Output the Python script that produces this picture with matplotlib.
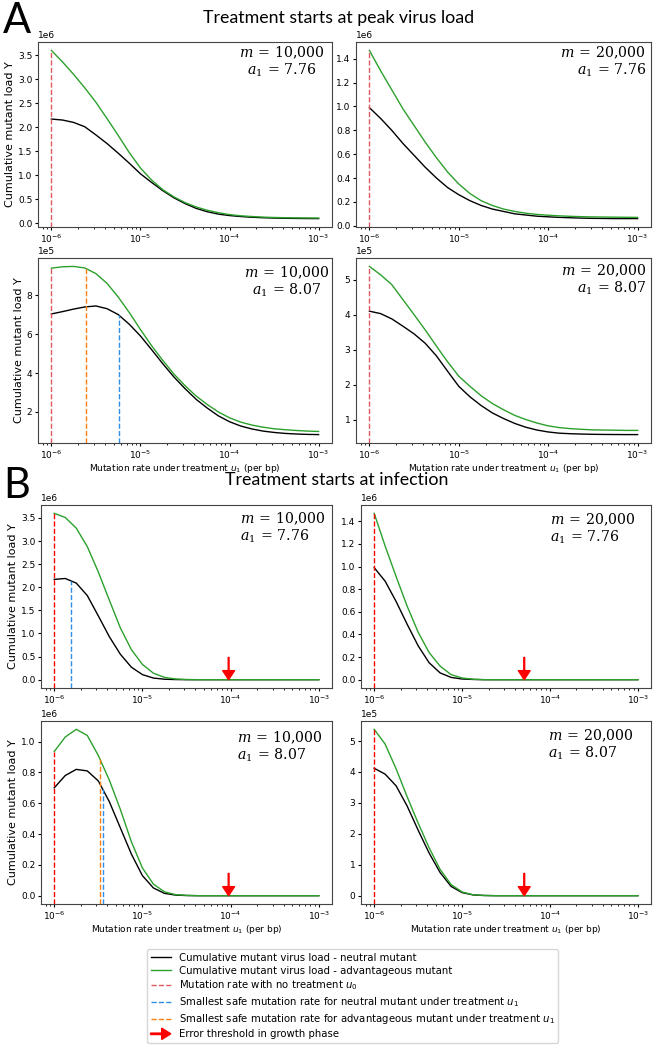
import matplotlib
matplotlib.use('Agg')
import matplotlib.pyplot as plt
import matplotlib.patches as mpatches
from matplotlib.lines import Line2D
from matplotlib.legend_handler import HandlerPatch
import numpy as np

# x grid (log10 of mutation rate under treatment u1), values read at these points
log_u1 = np.arange(-6, -2.99, 0.125)
u1 = 10 ** log_u1

# ---- A: treatment starts at peak virus load ----
# m = 10,000, a1 = 7.76 (x1e6)
A1_neutral = [2.17, 2.15, 2.10, 2.01, 1.84, 1.66, 1.46, 1.25, 1.03, 0.85, 0.68, 0.53, 0.41,
              0.31, 0.24, 0.19, 0.16, 0.14, 0.125, 0.115, 0.108, 0.103, 0.100, 0.098, 0.097]
A1_adv = [3.60, 3.36, 3.10, 2.82, 2.52, 2.18, 1.83, 1.47, 1.15, 0.90, 0.70, 0.55, 0.43,
          0.34, 0.27, 0.22, 0.18, 0.155, 0.14, 0.128, 0.12, 0.115, 0.112, 0.11, 0.108]
# m = 20,000, a1 = 7.76 (x1e6)
A2_neutral = [0.99, 0.90, 0.80, 0.69, 0.59, 0.49, 0.40, 0.32, 0.26, 0.21, 0.17, 0.14, 0.12,
              0.10, 0.09, 0.08, 0.075, 0.07, 0.067, 0.064, 0.062, 0.061, 0.06, 0.06, 0.06]
A2_adv = [1.47, 1.30, 1.14, 0.98, 0.84, 0.70, 0.57, 0.45, 0.35, 0.27, 0.21, 0.17, 0.14,
          0.12, 0.105, 0.095, 0.088, 0.083, 0.079, 0.076, 0.074, 0.073, 0.072, 0.071, 0.07]
# m = 10,000, a1 = 8.07 (x1e5)
A3_neutral = [7.03, 7.15, 7.28, 7.39, 7.44, 7.30, 7.00, 6.50, 5.90, 5.20, 4.48, 3.80, 3.20,
              2.65, 2.20, 1.80, 1.50, 1.28, 1.13, 1.02, 0.95, 0.90, 0.87, 0.85, 0.84]
A3_adv = [9.38, 9.45, 9.47, 9.39, 9.10, 8.60, 7.90, 7.10, 6.23, 5.40, 4.65, 3.95, 3.35,
          2.82, 2.38, 2.00, 1.70, 1.48, 1.33, 1.22, 1.14, 1.09, 1.05, 1.02, 1.00]
# m = 20,000, a1 = 8.07 (x1e5)
A4_neutral = [4.10, 4.03, 3.88, 3.67, 3.45, 3.18, 2.82, 2.38, 1.95, 1.65, 1.40, 1.19, 1.03,
              0.89, 0.78, 0.70, 0.645, 0.61, 0.595, 0.585, 0.578, 0.574, 0.572, 0.57, 0.57]
A4_adv = [5.38, 5.14, 4.86, 4.43, 4.00, 3.56, 3.10, 2.65, 2.24, 1.95, 1.68, 1.46, 1.28,
          1.12, 1.00, 0.90, 0.82, 0.77, 0.74, 0.72, 0.705, 0.70, 0.695, 0.69, 0.69]

# ---- B: treatment starts at infection ----
B1_neutral = [2.17, 2.19, 2.09, 1.82, 1.38, 0.93, 0.55, 0.27, 0.11, 0.035, 0.01, 0.003] + [0] * 13
B1_adv = [3.60, 3.51, 3.28, 2.88, 2.33, 1.72, 1.12, 0.65, 0.33, 0.14, 0.05, 0.015, 0.004] + [0] * 12
B2_neutral = [0.99, 0.87, 0.69, 0.49, 0.30, 0.15, 0.06, 0.02, 0.006, 0.002] + [0] * 15
B2_adv = [1.47, 1.18, 0.91, 0.65, 0.42, 0.24, 0.12, 0.045, 0.015, 0.004] + [0] * 15
B3_neutral = [0.70, 0.78, 0.82, 0.81, 0.745, 0.61, 0.44, 0.27, 0.13, 0.05, 0.015, 0.004, 0.001] + [0] * 12
B3_adv = [0.936, 1.03, 1.08, 1.04, 0.91, 0.75, 0.56, 0.35, 0.18, 0.075, 0.025, 0.007, 0.002] + [0] * 12
B4_neutral = [4.12, 3.93, 3.55, 2.90, 2.12, 1.38, 0.75, 0.30, 0.10, 0.025, 0.006] + [0] * 14
B4_adv = [5.38, 4.90, 4.10, 3.20, 2.35, 1.55, 0.85, 0.36, 0.12, 0.03, 0.008] + [0] * 14

scales = [1e6, 1e6, 1e5, 1e5, 1e6, 1e6, 1e6, 1e5]
m_values = ['10{,}000', '20{,}000', '10{,}000', '20{,}000'] * 2
a1_values = ['7.76', '7.76', '8.07', '8.07'] * 2

u0 = 1e-6
# smallest safe mutation rates (None = coincides with u0)
safe_neutral = [None, None, 5.77e-6, None, 1.53e-6, None, 3.55e-6, None]
safe_adv = [None, None, 2.47e-6, None, None, None, 3.27e-6, None]
# error threshold in growth phase (B only)
error_threshold = [None, None, None, None, 9.5e-5, 5.1e-5, 9.5e-5, 5.1e-5]

neutral = [A1_neutral, A2_neutral, A3_neutral, A4_neutral, B1_neutral, B2_neutral, B3_neutral, B4_neutral]
adv = [A1_adv, A2_adv, A3_adv, A4_adv, B1_adv, B2_adv, B3_adv, B4_adv]

# colours
C_NEUTRAL = 'black'
C_ADV = '#2ca02c'
C_RED_A = '#e05a5e'
C_RED_B = 'red'
C_BLUE = '#2f8fe8'
C_ORANGE = '#ff7f0e'

W, H = 653, 1050
fig = plt.figure(figsize=(W / 100, H / 100), dpi=100)

# axes boxes in pixels: (left, top, right, bottom)
boxes = [(38, 42, 332, 227), (356, 42, 651, 227),
         (38, 258, 332, 443), (356, 258, 651, 443),
         (41, 505, 332, 688), (361, 505, 651, 688),
         (41, 721, 332, 904), (361, 721, 651, 904)]
# text block positions (axes fraction) and alignment
text_pos = [(0.975, 0.985, 'center'), (0.983, 0.985, 'right'),
            (0.99, 0.965, 'center'), (0.985, 0.975, 'right'),
            (0.685, 0.97, 'left'), (0.652, 0.965, 'left'),
            (0.675, 0.955, 'left'), (0.645, 0.965, 'left')]

for i, (l, t, r, b) in enumerate(boxes):
    ax = fig.add_axes([l / W, 1 - b / H, (r - l) / W, (b - t) / H])
    yn = np.array(neutral[i]) * scales[i]
    ya = np.array(adv[i]) * scales[i]
    ax.plot(u1, yn, color=C_NEUTRAL, lw=1.0)
    ax.plot(u1, ya, color=C_ADV, lw=1.0)
    ax.set_xscale('log')
    ylim = ax.get_ylim()

    red = C_RED_A if i < 4 else C_RED_B
    ax.vlines(u0, ylim[0], max(yn[0], ya[0]), colors=red, linestyles='--', lw=1.0)
    if safe_neutral[i] is not None:
        h = np.interp(np.log10(safe_neutral[i]), log_u1, yn)
        ax.vlines(safe_neutral[i], ylim[0], h, colors=C_BLUE, linestyles='--', lw=1.0)
    if safe_adv[i] is not None:
        h = np.interp(np.log10(safe_adv[i]), log_u1, ya)
        ax.vlines(safe_adv[i], ylim[0], h, colors=C_ORANGE, linestyles='--', lw=1.0)
    if error_threshold[i] is not None:
        ax.annotate('', xy=(error_threshold[i], 0), xytext=(0, 16), textcoords='offset points',
                    arrowprops=dict(facecolor='red', edgecolor='red', width=0.6,
                                    headwidth=8.5, headlength=6.5))
    ax.set_ylim(ylim)

    ax.ticklabel_format(axis='y', style='sci', scilimits=(0, 0))
    ax.tick_params(labelsize=6.5, width=0.8, length=2.5, pad=1.5)
    ax.tick_params(which='minor', width=0.6, length=1.5)
    ax.yaxis.get_offset_text().set_fontsize(6.5)
    for s in ax.spines.values():
        s.set_color('#444444')
        s.set_linewidth(0.8)

    tx, ty, al = text_pos[i]
    ha = 'left' if al == 'left' else 'right'
    ax.text(tx, ty, r'$m\,=\,%s$' % m_values[i] + '\n' + r'$a_1\,=\,%s$' % a1_values[i],
            transform=ax.transAxes, ha=ha, va='top', ma=al, fontsize=10.2,
            math_fontfamily='dejavuserif', linespacing=1.05)

    if i % 2 == 0:
        ax.set_ylabel('Cumulative mutant load Y', fontsize=8, labelpad=2)
    if i in (2, 3, 6, 7):
        ax.set_xlabel(r'Mutation rate under treatment $u_1$ (per bp)', fontsize=6.5, labelpad=1)

# section labels and titles
fig.text(3 / W, 1 - 33 / H, 'A', fontsize=30, family='Lato', va='baseline')
fig.text(339 / W, 1 - 23 / H, 'Treatment starts at peak virus load', fontsize=12.8,
         family='Lato', ha='center', va='baseline')
fig.text(3 / W, 1 - 498 / H, 'B', fontsize=30, family='Lato', va='baseline')
fig.text(337 / W, 1 - 485 / H, 'Treatment starts at infection', fontsize=12.8,
         family='Lato', ha='center', va='baseline')


# legend with an arrow handle
def make_arrow(legend, orig_handle, xdescent, ydescent, width, height, fontsize):
    return mpatches.FancyArrow(0, 0.5 * height, width, 0, length_includes_head=True,
                               head_width=1.6 * height, head_length=0.45 * width,
                               width=0.2 * height, color='red')


handles = [Line2D([], [], color=C_NEUTRAL, lw=1.0),
           Line2D([], [], color=C_ADV, lw=1.0),
           Line2D([], [], color=C_RED_A, lw=1.0, ls='--'),
           Line2D([], [], color=C_BLUE, lw=1.0, ls='--'),
           Line2D([], [], color=C_ORANGE, lw=1.0, ls='--'),
           mpatches.FancyArrow(0, 0, 1, 0, color='red')]
labels = ['Cumulative mutant virus load - neutral mutant',
          'Cumulative mutant virus load - advantageous mutant',
          r'Mutation rate with no treatment $u_0$',
          r'Smallest safe mutation rate for neutral mutant under treatment $u_1$',
          r'Smallest safe mutation rate for advantageous mutant under treatment $u_1$',
          'Error threshold in growth phase']
fig.legend(handles, labels, loc='upper left', bbox_to_anchor=(147 / W, 1 - 949 / H),
           fontsize=7.3, handler_map={mpatches.FancyArrow: HandlerPatch(patch_func=make_arrow)},
           borderaxespad=0, labelspacing=0.3, borderpad=0.35)

fig.savefig('out.png', dpi=100)
